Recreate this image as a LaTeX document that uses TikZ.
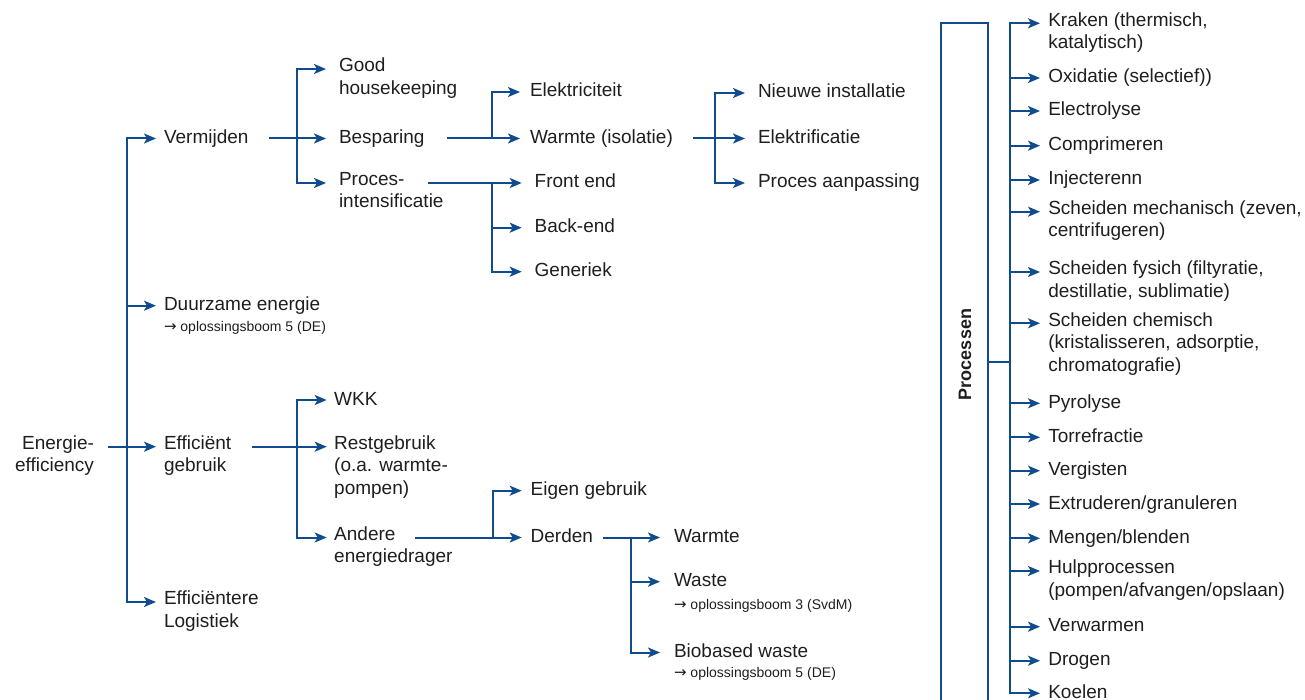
\documentclass[tikz,border=0pt]{standalone}
\usepackage{fontspec}
\setmainfont{Liberation Sans}
\newfontfamily\pijl{DejaVu Sans}
\usetikzlibrary{arrows.meta}
\definecolor{lijn}{RGB}{16,76,141}
\definecolor{tekst}{RGB}{30,30,30}
\newcommand{\groot}{\fontsize{19}{22.5}\selectfont}
\newcommand{\klein}{\fontsize{14}{16}\selectfont}
\newcommand{\naar}{{\pijl\fontsize{15}{16}\selectfont →}}
\tikzset{
  lbl/.style={anchor=north west, yshift=11pt, inner ysep=0pt, inner xsep=#1, outer sep=0pt, align=left, font=\groot, text=tekst,
    execute at begin node={\rule{0pt}{16pt}}},
  lbl/.default=13pt,
  ref/.style={anchor=base west, inner sep=0pt, outer sep=0pt, font=\klein, text=tekst},
  con/.style={draw=lijn, line width=2pt},
  arr/.style={con, -{Stealth[length=12pt,width=10pt,inset=3pt]}}
}
\begin{document}
\begin{tikzpicture}[x=1pt,y=-1pt]
\useasboundingbox (0,0) rectangle (1305,700);
% root
\node[lbl, anchor=north east, inner xsep=0pt, align=right] (energie) at (94,446.7) {Energie-\\efficiency};
% first level
\node[lbl=8pt] (verm) at (156,138.5) {Vermijden};
\node[lbl=8pt] (duur) at (156,305.7) {Duurzame energie};
\node[ref] (duurRef) at (164,331) {\naar\ oplossingsboom 5 (DE)};
\node[lbl=8pt] (effg) at (156,446.7) {Efficiënt\\gebruik};
\node[lbl=8pt] (logi) at (156,602) {Efficiëntere\\Logistiek};
% vermijden
\node[lbl] (good) at (326,69) {Good\\housekeeping};
\node[lbl] (besp) at (326,138.5) {Besparing};
\node[lbl] (proc) at (326,183) {Proces-\\intensificatie};
\node[lbl=10pt] (elek) at (520,92) {Elektriciteit};
\node[lbl=10pt] (warm) at (520,138.5) {Warmte (isolatie)};
\node[lbl] (front) at (521.7,183) {Front end};
\node[lbl] (back) at (521.7,227.7) {Back-end};
\node[lbl] (gen) at (521.7,271.7) {Generiek};
\node[lbl] (nieuw) at (745,93) {Nieuwe installatie};
\node[lbl] (elektr) at (745,138.5) {Elektrificatie};
\node[lbl] (aanp) at (745,183) {Proces aanpassing};
% efficient gebruik
\node[lbl=7.5pt] (wkk) at (326.7,400) {WKK};
\node[lbl=7.5pt] (rest) at (326.7,446.7) {Restgebruik\\(o.a. warmte-\\pompen)};
\node[lbl=7.5pt] (andere) at (326.7,537.5) {Andere\\energiedrager};
\node[lbl=9pt] (eigen) at (521.7,490.7) {Eigen gebruik};
\node[lbl=9pt] (derden) at (521.7,537.5) {Derden};
\node[lbl=14pt] (warmte) at (660,537.5) {Warmte};
\node[lbl=14pt] (waste) at (660,581.7) {Waste};
\node[ref] (wasteRef) at (674,609.5) {\naar\ oplossingsboom 3 (SvdM)};
\node[lbl=14pt] (bio) at (660,652.5) {Biobased waste};
\node[ref] (bioRef) at (674,677) {\naar\ oplossingsboom 5 (DE)};
% processen
\node[draw=lijn, line width=2pt, minimum width=47pt, minimum height=720pt, inner sep=0pt, outer sep=0pt, anchor=north] (procbox) at (964.2,22.7) {};
\node[rotate=90, font=\bfseries\fontsize{18}{20}\selectfont, text=tekst] (proctxt) at (965,354.5) {Processen};
\node[lbl=8.3pt] (krak) at (1040,23.3) {Kraken (thermisch,\\katalytisch)};
\node[lbl=8.3pt] (oxi) at (1040,78) {Oxidatie (selectief))};
\node[lbl=8.3pt] (elec) at (1040,111) {Electrolyse};
\node[lbl=8.3pt] (comp) at (1040,145.7) {Comprimeren};
\node[lbl=8.3pt] (inj) at (1040,180) {Injecterenn};
\node[lbl=8.3pt] (smech) at (1040,211.7) {Scheiden mechanisch (zeven,\\centrifugeren)};
\node[lbl=8.3pt] (sfys) at (1040,272) {Scheiden fysich (filtyratie,\\destillatie, sublimatie)};
\node[lbl=8.3pt] (schem) at (1040,323.3) {Scheiden chemisch\\(kristalisseren, adsorptie,\\chromatografie)};
\node[lbl=8.3pt] (pyro) at (1040,403.3) {Pyrolyse};
\node[lbl=8.3pt] (torr) at (1040,437.3) {Torrefractie};
\node[lbl=8.3pt] (verg) at (1040,470.7) {Vergisten};
\node[lbl=8.3pt] (extr) at (1040,504) {Extruderen/granuleren};
\node[lbl=8.3pt] (meng) at (1040,538.3) {Mengen/blenden};
\node[lbl=8.3pt] (hulp) at (1040,571) {Hulpprocessen\\(pompen/afvangen/opslaan)};
\node[lbl=8.3pt] (verw) at (1040,626.7) {Verwarmen};
\node[lbl=8.3pt] (drog) at (1040,660.7) {Drogen};
\node[lbl=8.3pt] (koel) at (1040,693.3) {Koelen};
% free ends and junctions
\coordinate (energieOut) at (108,446.7);
\coordinate (energieJ) at (126.7,446.7);
\coordinate (vermOut) at (269,138.5);
\coordinate (vermJ) at (296.7,138.5);
\coordinate (bespOut) at (446.7,138.5);
\coordinate (bespJ) at (491.7,138.5);
\coordinate (procOut) at (428,183);
\coordinate (procJ) at (492,183);
\coordinate (warmOut) at (693,138.5);
\coordinate (warmJ) at (715,138.5);
\coordinate (effgOut) at (252,446.7);
\coordinate (effgJ) at (296.7,446.7);
\coordinate (andereOut) at (415,537.5);
\coordinate (andereJ) at (493.3,537.5);
\coordinate (derdenOut) at (603,537.5);
\coordinate (derdenJ) at (631,537.5);
\coordinate (procsJ) at (1010,361.7);
% connectors
\draw[arr] (energieOut) -- ([yshift=-11pt]effg.north west);
\draw[arr] (energieJ) |- ([yshift=-11pt]verm.north west);
\draw[arr] (energieJ) |- ([yshift=-11pt]duur.north west);
\draw[arr] (energieJ) |- ([yshift=-11pt]logi.north west);
\draw[arr] (vermOut) -- ([yshift=-11pt]besp.north west);
\draw[arr] (vermJ) |- ([yshift=-11pt]good.north west);
\draw[arr] (vermJ) |- ([yshift=-11pt]proc.north west);
\draw[arr] (bespOut) -- ([yshift=-11pt]warm.north west);
\draw[arr] (bespJ) |- ([yshift=-11pt]elek.north west);
\draw[arr] (procOut) -- ([yshift=-11pt]front.north west);
\draw[arr] (procJ) |- ([yshift=-11pt]back.north west);
\draw[arr] (procJ) |- ([yshift=-11pt]gen.north west);
\draw[arr] (warmOut) -- ([yshift=-11pt]elektr.north west);
\draw[arr] (warmJ) |- ([yshift=-11pt]nieuw.north west);
\draw[arr] (warmJ) |- ([yshift=-11pt]aanp.north west);
\draw[arr] (effgOut) -- ([yshift=-11pt]rest.north west);
\draw[arr] (effgJ) |- ([yshift=-11pt]wkk.north west);
\draw[arr] (effgJ) |- ([yshift=-11pt]andere.north west);
\draw[arr] (andereOut) -- ([yshift=-11pt]derden.north west);
\draw[arr] (andereJ) |- ([yshift=-11pt]eigen.north west);
\draw[arr] (derdenOut) -- ([yshift=-11pt]warmte.north west);
\draw[arr] (derdenJ) |- ([yshift=-11pt]waste.north west);
\draw[arr] (derdenJ) |- ([yshift=-11pt]bio.north west);
\draw[con] ([yshift=21pt]procbox.east) -- (procsJ);
\draw[arr] (procsJ) |- ([yshift=-11pt]krak.north west);
\draw[arr] (procsJ) |- ([yshift=-11pt]oxi.north west);
\draw[arr] (procsJ) |- ([yshift=-11pt]elec.north west);
\draw[arr] (procsJ) |- ([yshift=-11pt]comp.north west);
\draw[arr] (procsJ) |- ([yshift=-11pt]inj.north west);
\draw[arr] (procsJ) |- ([yshift=-11pt]smech.north west);
\draw[arr] (procsJ) |- ([yshift=-11pt]sfys.north west);
\draw[arr] (procsJ) |- ([yshift=-11pt]schem.north west);
\draw[arr] (procsJ) |- ([yshift=-11pt]pyro.north west);
\draw[arr] (procsJ) |- ([yshift=-11pt]torr.north west);
\draw[arr] (procsJ) |- ([yshift=-11pt]verg.north west);
\draw[arr] (procsJ) |- ([yshift=-11pt]extr.north west);
\draw[arr] (procsJ) |- ([yshift=-11pt]meng.north west);
\draw[arr] (procsJ) |- ([yshift=-11pt]hulp.north west);
\draw[arr] (procsJ) |- ([yshift=-11pt]verw.north west);
\draw[arr] (procsJ) |- ([yshift=-11pt]drog.north west);
\draw[arr] (procsJ) |- ([yshift=-11pt]koel.north west);
\end{tikzpicture}
\end{document}
